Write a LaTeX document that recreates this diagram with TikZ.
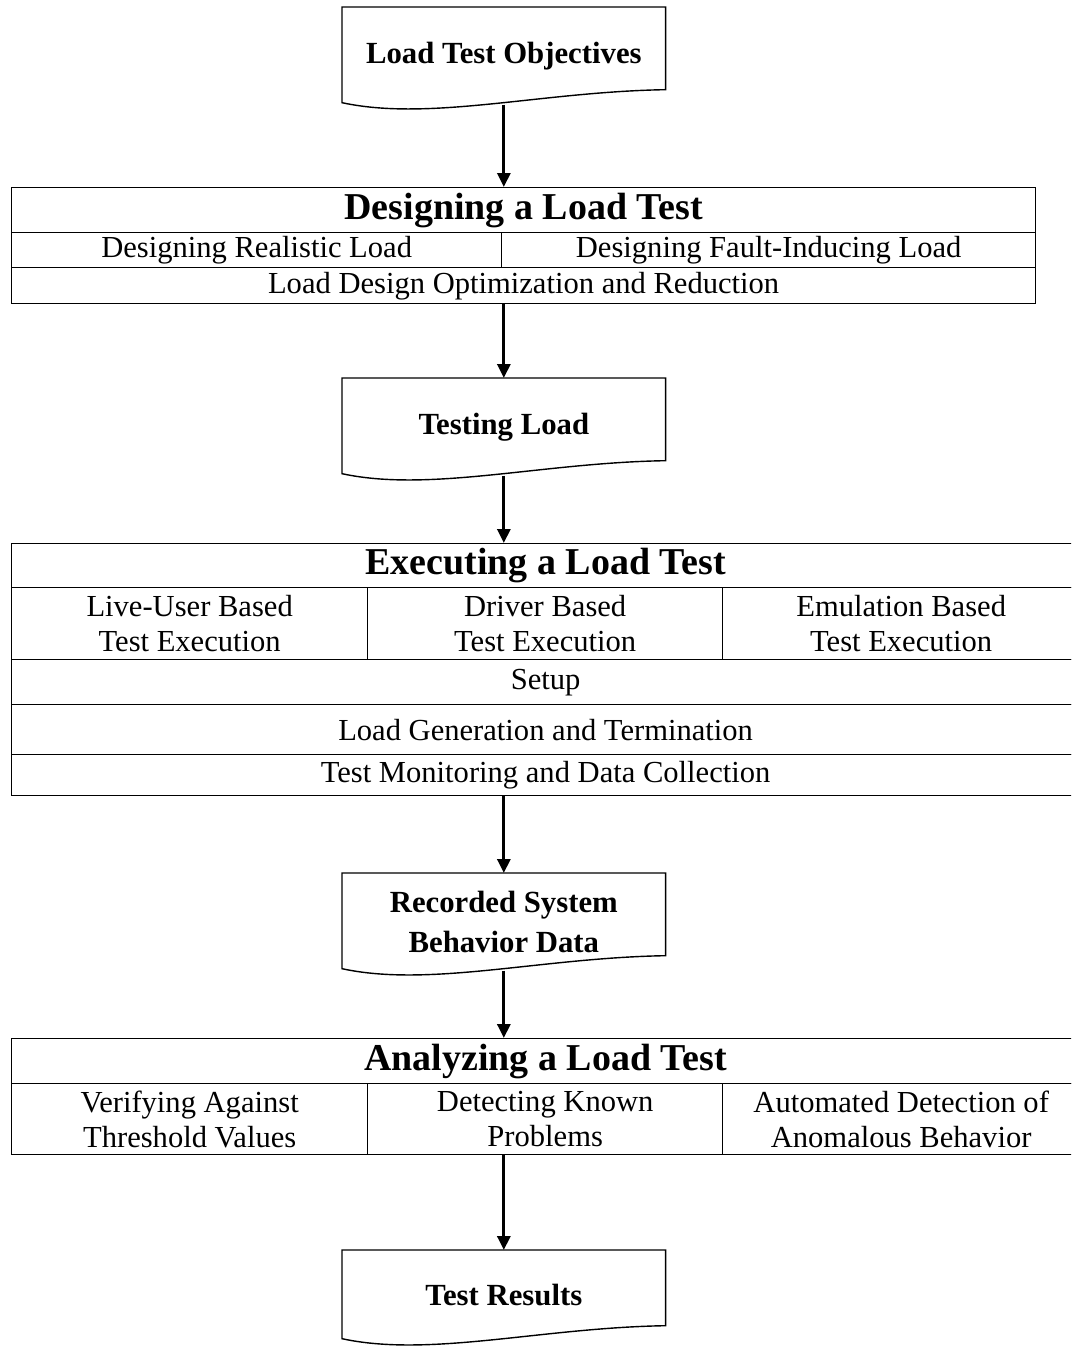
\documentclass[tikz,border=0pt]{standalone}
\usepackage{fontspec}
\setmainfont{Liberation Serif}
\usetikzlibrary{arrows.meta,calc}
\tikzset{
  cell/.style={draw,line width=0.8pt,anchor=north west,inner sep=0pt,align=center,font=\fontsize{17.4}{19.9}\selectfont},
  headcell/.style={cell,font=\fontsize{21.6}{24}\selectfont\bfseries},
  doc/.style={anchor=north west,minimum width=6.46cm,minimum height=1.94cm,inner sep=0pt,align=center,font=\fontsize{17.5}{22.8}\selectfont\bfseries},
  docline/.style={line width=0.8pt},
  arr/.style={line width=1.7pt,-{Triangle[length=0.28cm,width=0.26cm]}}
}
\newcommand{\docoutline}[1]{\draw[docline](#1.north west)--(#1.north east)--($(#1.south east)+(0,-15)$) .. controls ($(#1.south east)+(-125,-13)$) and ($(#1.south west)+(88,17)$) .. ($(#1.south west)+(0,-2)$)--cycle;}
\begin{document}
\begin{tikzpicture}[x=0.02cm,y=-0.02cm]
\useasboundingbox(0,0)rectangle(1071,1348);
\clip(0,0)rectangle(1071,1348);
\node[doc](obj)at(342,7){Load Test Objectives};
\docoutline{obj}
\node[headcell,minimum width=20.48cm,minimum height=0.9cm](dhead)at(11,187){Designing a Load Test};
\node[cell,minimum width=9.8cm,minimum height=0.7cm](dreal)at(11,232){Designing Realistic Load};
\node[cell,minimum width=10.68cm,minimum height=0.7cm](dfault)at(501,232){Designing Fault-Inducing Load};
\node[cell,minimum width=20.48cm,minimum height=0.72cm](dopt)at(11,267){Load Design Optimization and Reduction};
\node[doc](tload)at(342,378){Testing Load};
\docoutline{tload}
\node[headcell,minimum width=21.36cm,minimum height=0.88cm](ehead)at(11,543){Executing a Load Test};
\node[cell,minimum width=7.12cm,minimum height=1.44cm](elive)at(11,587){Live-User Based\\Test Execution};
\node[cell,minimum width=7.1cm,minimum height=1.44cm](edriver)at(367,587){Driver Based\\Test Execution};
\node[cell,minimum width=7.14cm,minimum height=1.44cm](eemu)at(722,587){Emulation Based\\Test Execution};
\node[cell,minimum width=21.36cm,minimum height=0.9cm](esetup)at(11,659){Setup};
\node[cell,minimum width=21.36cm,minimum height=1.0cm](egen)at(11,704){Load Generation and Termination};
\node[cell,minimum width=21.36cm,minimum height=0.82cm](emon)at(11,754){Test Monitoring and Data Collection};
\node[doc](rec)at(342,873){Recorded System\\Behavior Data};
\docoutline{rec}
\node[headcell,minimum width=21.36cm,minimum height=0.9cm](ahead)at(11,1038){Analyzing a Load Test};
\node[cell,minimum width=7.12cm,minimum height=1.42cm](aver)at(11,1083){Verifying Against\\Threshold Values};
\node[cell,minimum width=7.1cm,minimum height=1.42cm](aknown)at(367,1083){Detecting Known\\Problems};
\node[cell,minimum width=7.14cm,minimum height=1.42cm](aauto)at(722,1083){Automated Detection of\\Anomalous Behavior};
\node[doc,minimum height=1.8cm](res)at(342,1250){Test Results};
\docoutline{res}
\draw[arr](obj.south)--(obj.south|-dhead.north);
\draw[arr](tload.north|-dopt.south)--(tload.north);
\draw[arr](tload.south)--(tload.south|-ehead.north);
\draw[arr](rec.north|-emon.south)--(rec.north);
\draw[arr](rec.south)--(rec.south|-ahead.north);
\draw[arr](res.north|-aknown.south)--(res.north);
\end{tikzpicture}
\end{document}
